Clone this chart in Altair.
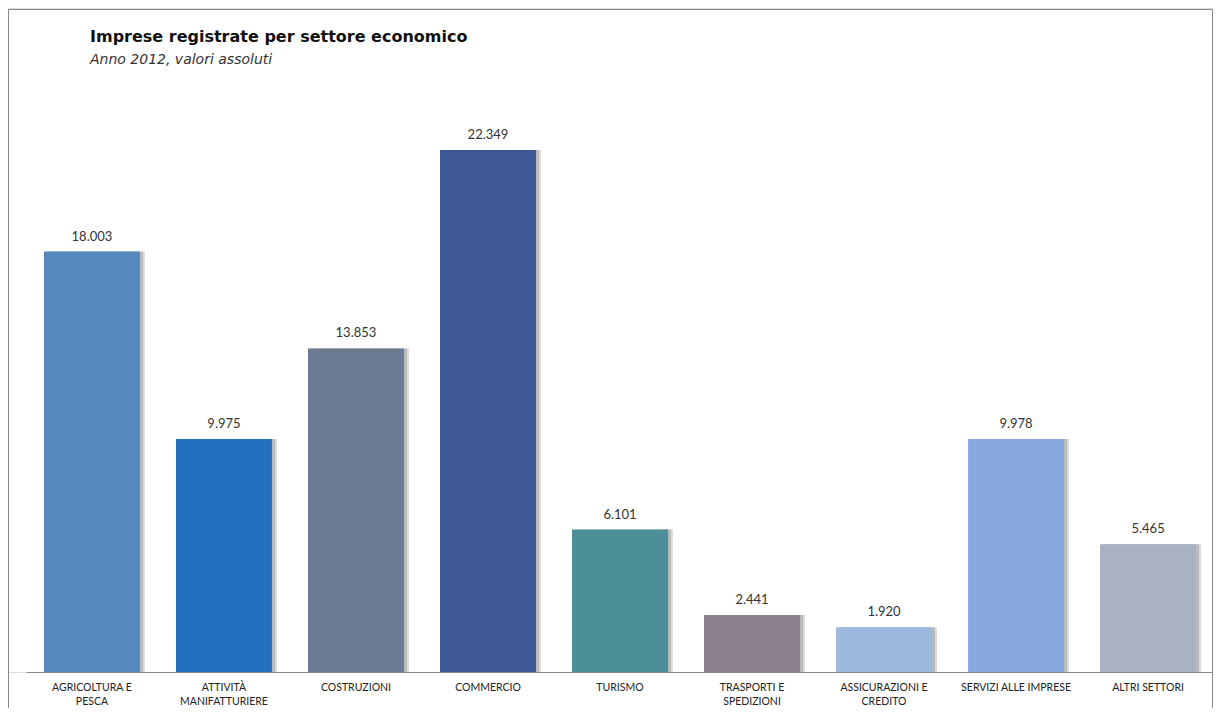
import altair as alt
import pandas as pd

categories = ["Agricoltura e pesca", "Attività manifatturiere", "Costruzioni", "Commercio",
              "Turismo", "Trasporti e Spedizioni", "Assicurazioni e Credito",
              "Servizi alle imprese", "Altri settori"]
axis_labels = ["AGRICOLTURA E\nPESCA", "ATTIVITÀ\nMANIFATTURIERE", "COSTRUZIONI", "COMMERCIO",
               "TURISMO", "TRASPORTI E\nSPEDIZIONI", "ASSICURAZIONI E\nCREDITO",
               "SERVIZI ALLE IMPRESE", "ALTRI SETTORI"]
values = [18003, 9975, 13853, 22349, 6101, 2441, 1920, 9978, 5465]
colors = ["#5689BB", "#2570BE", "#6C7A92", "#3F5997", "#4D8F99",
          "#8A7E8F", "#9BBADD", "#87A8DE", "#A8B2C3"]

df = pd.DataFrame({"cat": axis_labels, "v": values, "c": colors})

W, H = 1205, 664
FONT = "Lato"

x = alt.X("cat:N", sort=axis_labels,
          scale=alt.Scale(range=[18, 1206], paddingInner=0.273, paddingOuter=0.136),
          axis=alt.Axis(title=None, labelAngle=0, ticks=False, labelPadding=10,
                        labelFont=FONT, labelFontSize=10.5, labelColor="#222",
                        labelLineHeight=14, labelBaseline="top",
                        domainColor="#888", domainWidth=1,
                        labelExpr="split(datum.label, '\\n')"))
y = alt.Y("v:Q", scale=alt.Scale(domain=[0, 28430], nice=False), axis=None)

base = alt.Chart(df)

shadow1 = base.mark_bar(color="#9a9a9a", opacity=0.35, xOffset=5).encode(x=x, y=y)
shadow2 = base.mark_bar(color="#7a7a7a", opacity=0.35, xOffset=3).encode(x=x, y=y)
bars = base.mark_bar().encode(x=x, y=y, color=alt.Color("c:N", scale=None))
labels = base.mark_text(baseline="bottom", dy=-8, font=FONT, fontSize=13, color="#333").encode(
    x=x, y=y, text=alt.Text("lbl:N")
).transform_calculate(lbl="replace(format(datum.v, ','), ',', '.')")

frame = alt.Chart(pd.DataFrame({"k": [0]})).mark_rect(
    fill=None, stroke="#888", strokeWidth=1
).encode(x=alt.value(0.5), x2=alt.value(W - 0.5), y=alt.value(1.5), y2=alt.value(760))

title = alt.Chart(pd.DataFrame({"t": ["Imprese registrate per settore economico"]})).mark_text(
    align="left", baseline="alphabetic", font="DejaVu Sans", fontSize=16, fontWeight="bold", color="#111"
).encode(x=alt.value(82), y=alt.value(34), text="t:N")
subtitle = alt.Chart(pd.DataFrame({"t": ["Anno 2012, valori assoluti"]})).mark_text(
    align="left", baseline="alphabetic", font="DejaVu Sans", fontSize=14, fontStyle="italic", color="#333"
).encode(x=alt.value(82), y=alt.value(56), text="t:N")

chart = alt.layer(frame, shadow1, shadow2, bars, labels, title, subtitle).properties(
    width=W, height=H, padding={"left": 0, "top": 0, "right": 0, "bottom": 36},
    autosize=alt.AutoSizeParams(type="none")
).configure_view(stroke=None).configure(background="white")

chart.save("out.html", embed_options={"renderer": "svg", "actions": False})
